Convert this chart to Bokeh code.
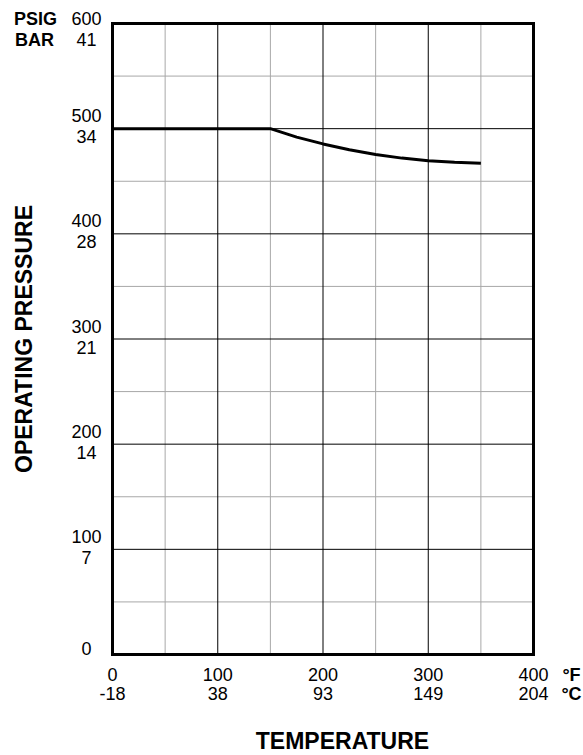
from bokeh.plotting import figure
from bokeh.models import Label
from bokeh.embed import file_html
from bokeh.resources import INLINE
import math

# Data
temp_f = [0, 150, 175, 200, 225, 250, 275, 300, 325, 350]
pressure_psig = [500, 500, 492, 485.5, 480, 475.5, 472, 469.5, 468, 467]

psig_ticks = [0, 100, 200, 300, 400, 500, 600]
bar_labels = ["", "7", "14", "21", "28", "34", "41"]
f_ticks = [0, 100, 200, 300, 400]
c_labels = ["-18", "38", "93", "149", "204"]
x_major = [100, 200, 300]
x_minor = [50, 150, 250, 350]
y_major = [100, 200, 300, 400, 500]
y_minor = [50, 150, 250, 350, 450, 550]

FONT = "Liberation Sans"
W, H = 583, 755
# plot box in pixels (left, right, top, bottom)
BL, BR, BT, BB = 112, 533, 23, 654
X0, X1 = f_ticks[0], f_ticks[-1]
Y0, Y1 = psig_ticks[0], psig_ticks[-1]
sx = (BR - BL) / (X1 - X0)
sy = (BB - BT) / (Y1 - Y0)
xr = (X0 - BL / sx, X1 + (W - BR) / sx)
yr = (Y0 - (H - BB) / sy, Y1 + BT / sy)

p = figure(width=W, height=H, x_range=xr, y_range=yr,
           output_backend="svg", toolbar_location=None,
           x_axis_location=None, y_axis_location=None, min_border=0)
p.xgrid.visible = False
p.ygrid.visible = False
p.outline_line_color = None
p.background_fill_color = "white"
p.border_fill_color = "white"

GRAY = "#a8a8a8"
p.segment(x0=x_minor, y0=[Y0] * len(x_minor), x1=x_minor, y1=[Y1] * len(x_minor),
          line_color=GRAY, line_width=1)
p.segment(x0=[X0] * len(y_minor), y0=y_minor, x1=[X1] * len(y_minor), y1=y_minor,
          line_color=GRAY, line_width=1)
p.segment(x0=x_major, y0=[Y0] * len(x_major), x1=x_major, y1=[Y1] * len(x_major),
          line_color="black", line_width=1)
p.segment(x0=[X0] * len(y_major), y0=y_major, x1=[X1] * len(y_major), y1=y_major,
          line_color="black", line_width=1)

p.line(temp_f, pressure_psig, line_color="black", line_width=3)

p.quad(left=[X0], right=[X1], bottom=[Y0], top=[Y1], fill_color=None,
       line_color="black", line_width=3, line_join="miter")

def lab(**kw):
    base = dict(text_font=FONT, text_font_size="18px", text_color="black",
                text_align="center", text_baseline="middle")
    base.update(kw)
    p.add_layout(Label(**base))

# Y tick labels
for v, b in zip(psig_ticks, bar_labels):
    if v == Y1:
        o1, o2 = 5, -16
    elif v == Y0:
        o1, o2 = 6, 0
    else:
        o1, o2 = 13, -8
    lab(x=86, x_units="screen", y=v, y_units="data", y_offset=o1, text=str(v))
    if b:
        lab(x=86, x_units="screen", y=v, y_units="data", y_offset=o2, text=b)

lab(x=35, x_units="screen", y=Y1, y_units="data", y_offset=5, text="PSIG", text_font_style="bold")
lab(x=34, x_units="screen", y=Y1, y_units="data", y_offset=-16, text="BAR", text_font_style="bold")

# X tick labels
for v, c in zip(f_ticks, c_labels):
    lab(x=v, x_units="data", y=Y0, y_units="data", y_offset=-20, text=str(v))
    lab(x=v, x_units="data", y=Y0, y_units="data", y_offset=-39, text=c)

lab(x=571, x_units="screen", y=Y0, y_units="data", y_offset=-20, text="°F", text_font_style="bold")
lab(x=571, x_units="screen", y=Y0, y_units="data", y_offset=-39, text="°C", text_font_style="bold")

# Axis titles
lab(x=23, x_units="screen", y=300, y_units="data", text="OPERATING PRESSURE",
    text_font_style="bold", text_font_size="23px", angle=math.pi / 2)
lab(x=342, x_units="screen", y=15, y_units="screen", text="TEMPERATURE",
    text_font_style="bold", text_font_size="23px")

open("out.html", "w").write(file_html(p, INLINE))
